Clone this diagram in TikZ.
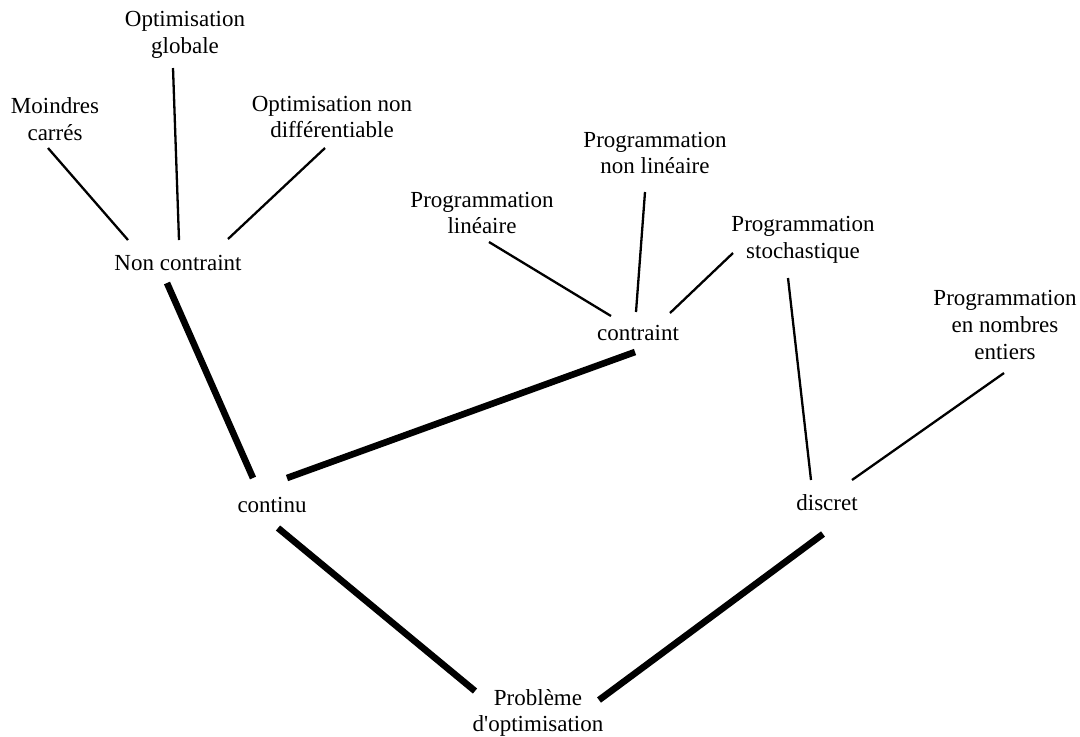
\documentclass[tikz,border=0pt]{standalone}
\usepackage{fontspec}
\setmainfont{Liberation Serif}
\begin{document}
\begin{tikzpicture}[x=0.5pt,y=-0.5pt,
  lbl/.style={inner sep=0pt,align=center,font=\fontsize{11.5}{13.3}\selectfont},
  thin/.style={line width=1.15pt,black},
  thick/.style={line width=3.3pt,black}]
\useasboundingbox (0,0) rectangle (1080,736);
% nodes
\node[lbl] (glob) at (185,35) {Optimisation\\globale};
\node[lbl] (moind) at (55,119) {Moindres\\carrés};
\node[lbl] (nondiff) at (332,117) {Optimisation non\\différentiable};
\node[lbl] (nc) at (178,263) {Non contraint};
\node[lbl] (pnl) at (655,153) {Programmation\\non linéaire};
\node[lbl] (pl) at (482,213) {Programmation\\linéaire};
\node[lbl] (ps) at (803,240) {Programmation\\stochastique};
\node[lbl] (pe) at (1005,325) {Programmation\\en nombres\\entiers};
\node[lbl] (ct) at (638,333) {contraint};
\node[lbl] (cont) at (272,505) {continu};
\node[lbl] (disc) at (827,503) {discret};
\node[lbl] (prob) at (538,713) {Problème\\d\textquotesingle optimisation};
% connector ends
\coordinate (moind-e) at (48,148);   \coordinate (nc-moind) at (128,240);
\coordinate (glob-e) at (173,68);    \coordinate (nc-glob) at (179,240);
\coordinate (nondiff-e) at (325,148);\coordinate (nc-nondiff) at (228,239);
\coordinate (pl-e) at (489,242);     \coordinate (ct-pl) at (611,316);
\coordinate (pnl-e) at (645,192);    \coordinate (ct-pnl) at (636,312);
\coordinate (ps-e) at (733,253);     \coordinate (ct-ps) at (670,313);
\coordinate (ps-e2) at (788,278);    \coordinate (disc-ps) at (811,480);
\coordinate (pe-e) at (1004,373);    \coordinate (disc-pe) at (852,480);
\coordinate (nc-e) at (167,283);     \coordinate (cont-nc) at (253,478);
\coordinate (ct-e) at (635,352);     \coordinate (cont-ct) at (287,478);
\coordinate (cont-e) at (278,528);   \coordinate (prob-cont) at (475,691);
\coordinate (disc-e) at (823,534);   \coordinate (prob-disc) at (599,700);
% thin connectors
\draw[thin] (moind-e) -- (nc-moind);
\draw[thin] (glob-e) -- (nc-glob);
\draw[thin] (nondiff-e) -- (nc-nondiff);
\draw[thin] (pl-e) -- (ct-pl);
\draw[thin] (pnl-e) -- (ct-pnl);
\draw[thin] (ps-e) -- (ct-ps);
\draw[thin] (ps-e2) -- (disc-ps);
\draw[thin] (pe-e) -- (disc-pe);
% thick connectors
\draw[thick] (nc-e) -- (cont-nc);
\draw[thick] (ct-e) -- (cont-ct);
\draw[thick] (cont-e) -- (prob-cont);
\draw[thick] (disc-e) -- (prob-disc);
\end{tikzpicture}
\end{document}
